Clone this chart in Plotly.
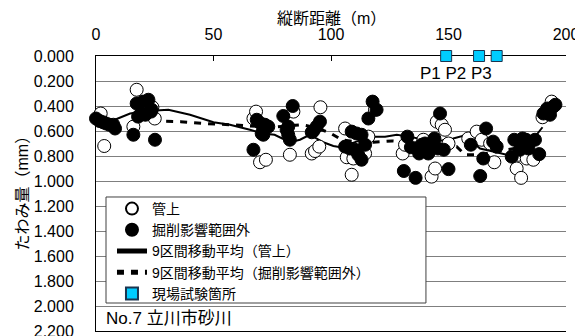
import plotly.graph_objects as go

# 縦断距離 (m) とたわみ量 (mm)：管上
dist_pipe = [2.0, 3.5, 15.9, 17.3, 24.0, 25.0, 67.0, 68.1, 69.8, 72.3, 82.5, 84.0,
             91.8, 93.2, 95.0, 95.5, 106.0, 106.7, 108.8, 109.5, 114.5, 115.9, 118.7,
             130.5, 131.5, 139.3, 142.8, 144.3, 145.0, 147.1, 148.5, 150.0, 158.4,
             162.0, 164.1, 167.7, 169.5, 179.0, 179.8, 180.9, 183.3, 186.1, 190.0, 193.9]
defl_pipe = [0.46, 0.72, 0.565, 0.27, 0.41, 0.50, 0.50, 0.445, 0.85, 0.83, 0.79, 0.445,
             0.78, 0.76, 0.725, 0.41, 0.58, 0.81, 0.95, 0.82, 0.78, 0.645, 0.43,
             0.78, 0.71, 0.67, 0.965, 0.90, 0.525, 0.55, 0.59, 0.70, 0.66,
             0.605, 0.67, 0.70, 0.85, 0.90, 0.79, 0.975, 0.82, 0.83, 0.49, 0.365]

# 掘削影響範囲外
dist_out = [0.0, 1.5, 3.0, 4.3, 5.8, 7.4, 8.1, 15.9, 17.3, 17.9, 19.3, 20.0, 21.0,
            22.3, 23.4, 23.7, 25.1, 67.0, 68.4, 70.1, 70.5, 71.2, 71.9, 73.3, 79.7,
            81.1, 81.8, 81.8, 82.5, 83.7, 91.8, 92.5, 93.9, 95.3, 106.0, 108.0, 108.8,
            110.2, 110.9, 111.6, 113.0, 113.0, 114.5, 115.9, 117.7, 119.4, 131.0,
            132.5, 134.0, 136.0, 137.5, 138.6, 140.0, 141.4, 142.0, 144.0, 145.5,
            146.4, 148.0, 150.0, 159.5, 163.5, 164.8, 166.0, 169.0, 170.5, 176.9,
            178.0, 180.4, 181.5, 183.0, 184.0, 186.8, 188.6, 190.4, 192.0, 193.2,
            194.6, 195.5]
defl_out = [0.50, 0.52, 0.53, 0.54, 0.55, 0.55, 0.58, 0.63, 0.38, 0.485, 0.46, 0.365, 0.47,
            0.35, 0.445, 0.43, 0.67, 0.75, 0.51, 0.54, 0.62, 0.63, 0.55, 0.565, 0.48,
            0.59, 0.565, 0.63, 0.67, 0.40, 0.61, 0.60, 0.565, 0.525, 0.725, 0.74, 0.605,
            0.75, 0.62, 0.79, 0.63, 0.83, 0.71, 0.50, 0.365, 0.43, 0.92,
            0.645, 0.73, 0.975, 0.78, 0.71, 0.70, 0.78, 0.75, 0.66, 0.74,
            0.46, 0.75, 0.905, 0.71, 0.96, 0.82, 0.58, 0.685, 0.725, 0.805,
            0.67, 0.75, 0.66, 0.67, 0.74, 0.67, 0.785, 0.46, 0.42, 0.47,
            0.405, 0.39]

# 9区間移動平均（管上）
ma_pipe_dist = [5, 8, 14.5, 21.6, 30.8, 40, 50, 57, 65.5, 71, 76, 82.5, 86.8, 91, 96.7,
                101, 104, 110, 117, 123, 128, 133, 140, 146, 152, 157, 163.4, 168,
                173, 177, 180.4, 184, 187.5, 190]
ma_pipe_val = [0.53, 0.51, 0.46, 0.44, 0.43, 0.47, 0.53, 0.55, 0.59, 0.62, 0.63, 0.69, 0.67,
               0.63, 0.69, 0.72, 0.73, 0.69, 0.645, 0.645, 0.63, 0.645, 0.67, 0.68, 0.66,
               0.635, 0.74, 0.76, 0.78, 0.80, 0.82, 0.76, 0.63, 0.57]

# 9区間移動平均（掘削影響範囲外）
ma_out_dist = [18, 27, 36, 46, 57, 66, 75, 81, 87.5, 93, 99.5, 104.5, 110, 118, 126,
               133, 140, 147, 153.5, 157, 161.5, 166, 172, 178, 184]
ma_out_val = [0.50, 0.52, 0.525, 0.54, 0.55, 0.56, 0.57, 0.56, 0.55, 0.57, 0.615, 0.67,
              0.685, 0.69, 0.68, 0.69, 0.70, 0.71, 0.725, 0.79, 0.79, 0.78, 0.76, 0.74, 0.73]

# 現場試験箇所
test_dist = [149, 163, 170.5]
test_val = [0.0, 0.0, 0.0]

x_ticks = [0, 50, 100, 150, 200]
y_ticks = [0.0, 0.2, 0.4, 0.6, 0.8, 1.0, 1.2, 1.4, 1.6, 1.8, 2.0, 2.2]

FONT = "Liberation Sans, Arial, Noto Sans CJK JP, sans-serif"

fig = go.Figure()

fig.add_trace(go.Scatter(
    x=ma_pipe_dist, y=ma_pipe_val, mode="lines", name="9区間移動平均（管上）",
    line=dict(color="black", width=2), legendrank=3, cliponaxis=False))
fig.add_trace(go.Scatter(
    x=ma_out_dist, y=ma_out_val, mode="lines", name="9区間移動平均（掘削影響範囲外）",
    line=dict(color="black", width=3, dash="7px,7px"), legendrank=4, cliponaxis=False))
fig.add_trace(go.Scatter(
    x=dist_pipe, y=defl_pipe, mode="markers", name="管上",
    marker=dict(symbol="circle", size=13, color="white", line=dict(color="black", width=1)),
    legendrank=1, cliponaxis=False))
fig.add_trace(go.Scatter(
    x=dist_out, y=defl_out, mode="markers", name="掘削影響範囲外",
    marker=dict(symbol="circle", size=13, color="black", line=dict(color="black", width=1)),
    legendrank=2, cliponaxis=False))
fig.add_trace(go.Scatter(
    x=test_dist, y=test_val, mode="markers", name="現場試験箇所",
    marker=dict(symbol="square", size=11, color="#00CCFF", line=dict(color="#1a3550", width=1)),
    legendrank=5, cliponaxis=False))

fig.update_layout(
    width=575, height=336, autosize=False,
    margin=dict(l=96, r=9, t=56, b=5, pad=0, autoexpand=False),
    paper_bgcolor="white", plot_bgcolor="white",
    font=dict(family=FONT, size=16, color="black"),
    showlegend=True,
    legend=dict(
        x=0.034, y=0.5018, xanchor="left", yanchor="top",
        bgcolor="rgba(0,0,0,0)", borderwidth=0,
        font=dict(family=FONT, size=14, color="black"),
        itemsizing="constant", tracegroupgap=0, traceorder="normal",
    ),
    xaxis=dict(
        side="top", range=[0, 200], tickvals=x_ticks, ticktext=[str(v) for v in x_ticks],
        ticks="inside", ticklen=5, tickcolor="black", tickwidth=1,
        showline=True, linecolor="black", linewidth=1, mirror=True,
        showgrid=False, zeroline=False, ticklabelstandoff=9,
        ticklabeloverflow="allow", automargin=False,
        tickfont=dict(family=FONT, size=16), layer="below traces",
    ),
    yaxis=dict(
        range=[2.2, 0], tickvals=y_ticks, ticktext=[f"{v:.3f}" for v in y_ticks],
        ticks="", showline=True, linecolor="black", linewidth=1,
        showgrid=True, gridcolor="#7f7f7f", gridwidth=1, zeroline=False,
        ticklabelstandoff=18, ticklabeloverflow="allow", automargin=False,
        tickfont=dict(family=FONT, size=16), layer="below traces",
    ),
)

# legend frame
fig.add_shape(type="rect", xref="paper", yref="paper",
              x0=0.0213, x1=0.702, y0=0.1018, y1=0.4873,
              line=dict(color="#404040", width=1), fillcolor="white", layer="above")

# axis titles
fig.add_annotation(text="縦断距離（m）", xref="paper", yref="paper", x=0.5, y=1,
                   xanchor="center", yanchor="middle", yshift=38, showarrow=False,
                   font=dict(family=FONT, size=16))
fig.add_annotation(text="たわみ量（mm）", xref="paper", yref="paper", x=0, y=0.5,
                   xanchor="center", yanchor="middle", xshift=-74, yshift=4,
                   textangle=-90, showarrow=False, font=dict(family=FONT, size=16))

# test point labels and site name
fig.add_annotation(text="P1 P2 P3", x=153.2, y=0.136, xref="x", yref="y",
                   showarrow=False, font=dict(family=FONT, size=17))
fig.add_annotation(text="No.7 立川市砂川", xref="paper", yref="y", x=0.0, y=2.1,
                   xanchor="left", yanchor="middle", xshift=8, showarrow=False,
                   font=dict(family=FONT, size=17))

fig.write_html("out.html")
